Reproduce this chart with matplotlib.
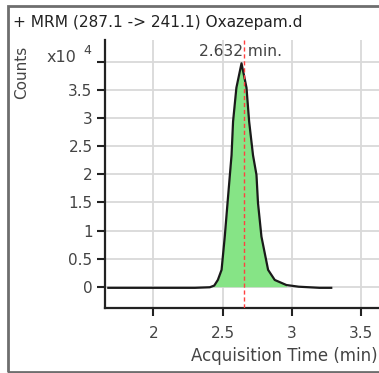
import matplotlib
matplotlib.use("Agg")
import matplotlib.pyplot as plt
from matplotlib.patches import Rectangle
import numpy as np

plt.rcParams['font.family'] = ['DejaVu Sans']

title = "+ MRM (287.1 -> 241.1) Oxazepam.d"
xlabel = "Acquisition Time (min)"
ylabel = "Counts"
peak_label = "2.632 min."
peak_label_x = 2.632
marker_x = 2.655

time = [1.675, 2.0, 2.3, 2.408, 2.44, 2.466, 2.493, 2.516, 2.536, 2.553, 2.565,
        2.576, 2.600, 2.637, 2.673, 2.692, 2.720, 2.745, 2.756, 2.781, 2.829,
        2.877, 2.961, 3.05, 3.2, 3.285]
counts = [-0.02, -0.02, -0.02, -0.01, 0.02, 0.12, 0.30, 0.89, 1.49, 1.99, 2.34,
          2.94, 3.54, 3.975, 3.54, 2.94, 2.34, 1.99, 1.49, 0.89, 0.30,
          0.12, 0.03, 0.0, -0.02, -0.02]
fill_start, fill_end = 2.408, 2.961

xticks = [2, 2.5, 3, 3.5]
xticklabels = ["2", "2.5", "3", "3.5"]
yticks = [0, 0.5, 1, 1.5, 2, 2.5, 3, 3.5, 4]
yticklabels = ["0", "0.5", "1", "1.5", "2", "2.5", "3", "3.5", ""]

W, H = 379, 373
fig = plt.figure(figsize=(W / 100, H / 100), dpi=100)
fig.patch.set_facecolor('white')

# outer frame
fig.add_artist(Rectangle((8 / W, (H - 371.5) / H), (W + 10) / W, (371.5 - 6) / H,
                         transform=fig.transFigure, fill=False,
                         edgecolor='#6e6e6e', linewidth=2))

ax = fig.add_axes([105 / W, (H - 308) / H, 1 - 105 / W, (308 - 40) / H])
ax.set_xlim(1.651, 3.63)
ax.set_ylim(-0.379, 4.39)

ax.set_xticks(xticks)
ax.set_xticklabels(xticklabels)
ax.set_yticks(yticks)
ax.set_yticklabels(yticklabels)
ax.grid(True, color='#d9d9d9', linewidth=1.3)
ax.set_axisbelow(True)

for s in ['top', 'right']:
    ax.spines[s].set_visible(False)
for s in ['left', 'bottom']:
    ax.spines[s].set_linewidth(1.6)
    ax.spines[s].set_color('#222222')
ax.tick_params(axis='both', direction='out', length=6, width=1.5,
               color='#222222', labelsize=11, labelcolor='#444444')
ax.tick_params(axis='x', pad=7)
ax.tick_params(axis='y', pad=3)

t = np.array(time)
c = np.array(counts)
mask = (t >= fill_start) & (t <= fill_end)
ax.fill_between(t, c, 0, where=mask, color='#86e486', linewidth=0, zorder=2)
ax.plot(t, c, color='#1a1a1a', linewidth=1.6, zorder=3)
ax.axvline(marker_x, color='#ff4040', linestyle=(0, (3, 2)), linewidth=1.0, zorder=4)

ax.text(peak_label_x, 4.18, peak_label, ha='center', va='center',
        fontsize=11.2, color='#444444', zorder=5)

fig.text(13 / W, (H - 22) / H, title, ha='left', va='center',
         fontsize=11.1, color='#222222')
fig.text(22 / W, (H - 72) / H, ylabel, rotation=90, ha='center', va='center',
         fontsize=11, color='#444444')
fig.text(47 / W, (H - 57) / H, "x10", ha='left', va='center',
         fontsize=11.5, color='#444444')
fig.text(87 / W, (H - 50) / H, "4", ha='center', va='center',
         fontsize=9, color='#444444')
fig.text(378 / W, (H - 356) / H, xlabel, ha='right', va='center',
         fontsize=12, color='#444444')

fig.savefig("out.png", dpi=100)
